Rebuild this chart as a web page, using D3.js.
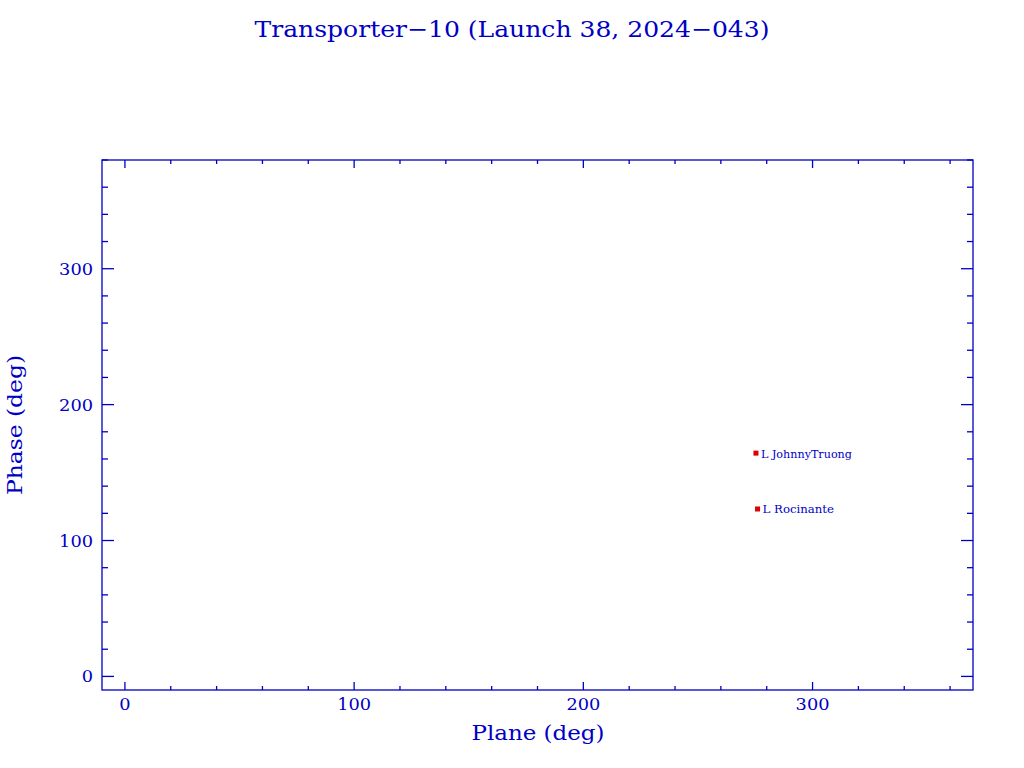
<!DOCTYPE html>
<html><head><meta charset="utf-8">
<script src="https://cdn.jsdelivr.net/npm/d3@7"></script>
<style>body{margin:0;background:#fff}svg{display:block}</style>
</head><body>
<svg id="c" width="1024" height="768"></svg>
<script>
const names = ["JohnnyTruong", "Rocinante"];
const planes = [275.3, 276.0];
const phases = [164.3, 123.2];
const xTicks = [0, 100, 200, 300];
const yTicks = [0, 100, 200, 300];
const titleText = "Transporter\u221210 (Launch 38, 2024\u2212043)";
const xLabel = "Plane (deg)";
const yLabel = "Phase (deg)";

const blue = "#0000c4", red = "#dd0000";
const font = "DejaVu Serif";
const L = 102, R = 973, T = 160, B = 690;
const svg = d3.select("#c");
const x = d3.scaleLinear().domain([-10, 370]).range([L, R]);
const y = d3.scaleLinear().domain([-10, 380]).range([B, T]);

svg.append("rect").attr("x", L).attr("y", T).attr("width", R - L).attr("height", B - T)
  .attr("fill", "none").attr("stroke", blue).attr("stroke-width", 1.3);

const xMinor = d3.range(0, 371, 20);
const yMinor = d3.range(0, 381, 20);
const g = svg.append("g").attr("stroke", blue).attr("stroke-width", 1.3);
xMinor.forEach(v => {
  const len = v % 100 === 0 ? 8 : 4;
  g.append("line").attr("x1", x(v)).attr("x2", x(v)).attr("y1", B).attr("y2", B - len);
  g.append("line").attr("x1", x(v)).attr("x2", x(v)).attr("y1", T).attr("y2", T + len);
});
yMinor.forEach(v => {
  const len = v % 100 === 0 ? 12 : 6;
  g.append("line").attr("y1", y(v)).attr("y2", y(v)).attr("x1", L).attr("x2", L + len);
  g.append("line").attr("y1", y(v)).attr("y2", y(v)).attr("x1", R).attr("x2", R - len);
});

svg.selectAll(".xt").data(xTicks).enter().append("text")
  .attr("x", d => x(d)).attr("y", 710).attr("text-anchor", "middle")
  .attr("font-family", font).attr("font-size", 17).attr("fill", blue)
  .attr("textLength", d => String(d).length * 11.3).attr("lengthAdjust", "spacingAndGlyphs").text(d => d);
svg.selectAll(".yt").data(yTicks).enter().append("text")
  .attr("x", 93).attr("y", d => y(d) + 6).attr("text-anchor", "end")
  .attr("font-family", font).attr("font-size", 17).attr("fill", blue)
  .attr("textLength", d => String(d).length * 11.3).attr("lengthAdjust", "spacingAndGlyphs").text(d => d);

svg.append("text").attr("x", 512).attr("y", 37).attr("text-anchor", "middle")
  .attr("font-family", font).attr("font-size", 23).attr("fill", blue)
  .attr("textLength", 515).attr("lengthAdjust", "spacingAndGlyphs").text(titleText);
svg.append("text").attr("x", 538).attr("y", 740).attr("text-anchor", "middle")
  .attr("font-family", font).attr("font-size", 20).attr("fill", blue)
  .attr("textLength", 133).attr("lengthAdjust", "spacingAndGlyphs").text(xLabel);
svg.append("text").attr("transform", "translate(22,425) rotate(-90)").attr("text-anchor", "middle")
  .attr("font-family", font).attr("font-size", 20).attr("fill", blue)
  .attr("textLength", 140).attr("lengthAdjust", "spacingAndGlyphs").text(yLabel);

const pts = names.map((n, i) => ({n, px: planes[i], ph: phases[i]}));
svg.selectAll(".pt").data(pts).enter().append("rect")
  .attr("x", d => x(d.px) - 2.5).attr("y", d => y(d.ph) - 2.5)
  .attr("width", 5).attr("height", 5).attr("fill", red);
svg.selectAll(".lb").data(pts).enter().append("text")
  .attr("x", d => x(d.px) + 5).attr("y", d => y(d.ph) + 4.5)
  .attr("font-family", font).attr("font-size", 11).attr("fill", blue)
  .attr("textLength", d => ("L " + d.n).length * 6.5).attr("lengthAdjust", "spacingAndGlyphs")
  .text(d => "L " + d.n);
</script>
</body></html>
